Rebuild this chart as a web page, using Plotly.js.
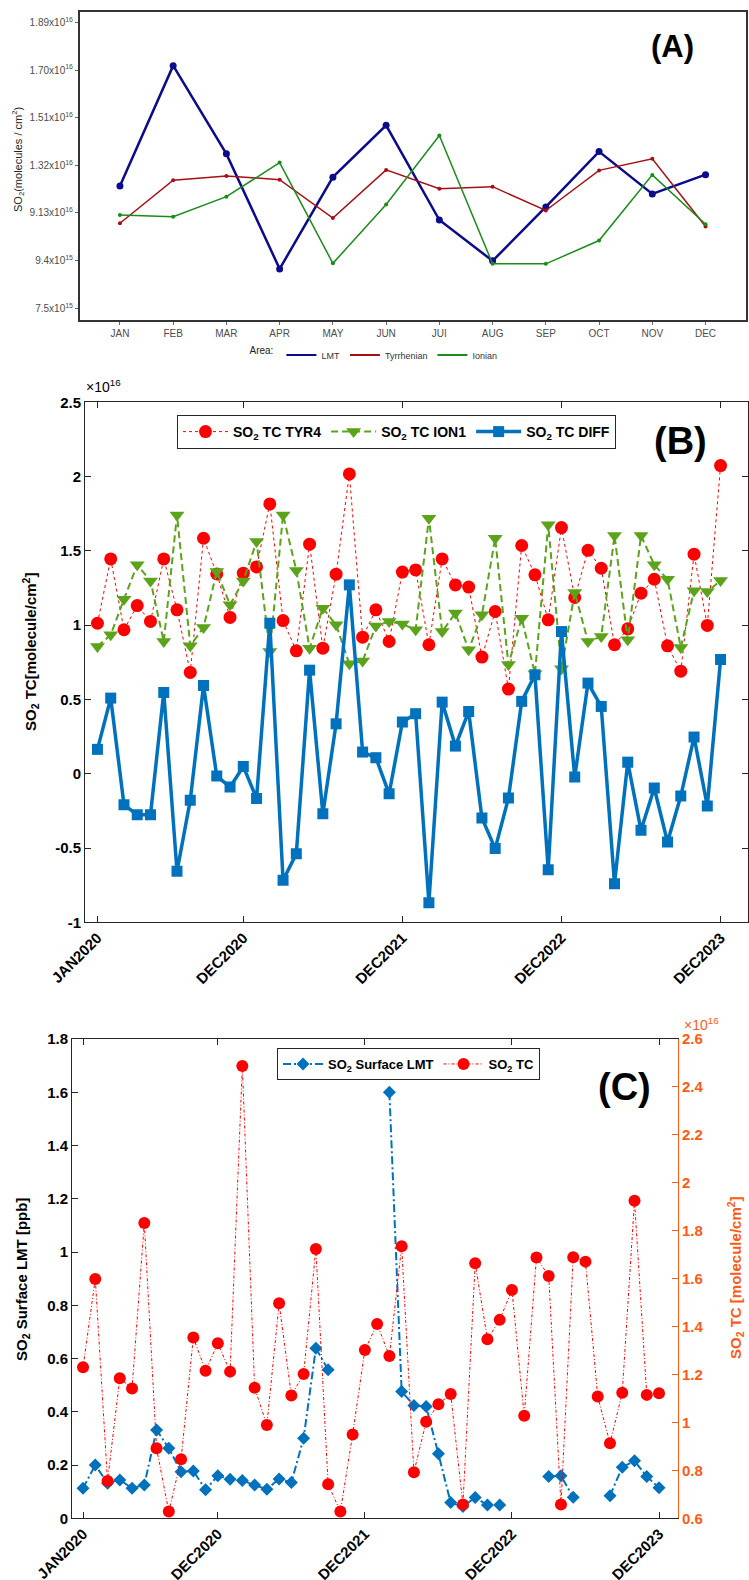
<!DOCTYPE html>
<html><head><meta charset="utf-8">
<script src="https://cdn.plot.ly/plotly-3.0.1.min.js"></script>
<style>html,body{margin:0;padding:0;background:#fff;}#chart{width:749px;height:1580px;}</style>
</head><body><div id="chart"></div>
<script>
// ---------- Panel A data (x10^16 molecules/cm2) ----------
const monthsA = ["JAN","FEB","MAR","APR","MAY","JUN","JUI","AUG","SEP","OCT","NOV","DEC"];
const lmtA = [1.238,1.718,1.366,0.907,1.273,1.480,1.102,0.939,1.154,1.375,1.206,1.283];
const tyrA = [1.089,1.261,1.278,1.263,1.110,1.302,1.227,1.235,1.140,1.300,1.346,1.076];
const ionA = [1.122,1.115,1.195,1.331,0.929,1.164,1.439,0.927,0.927,1.020,1.282,1.085];
const tickValsA = [0.75,0.94,1.13,1.32,1.51,1.70,1.89];
const tickTextA = ["7.5x10<sup>15</sup>","9.4x10<sup>15</sup>","9.13x10<sup>16</sup>","1.32x10<sup>16</sup>","1.51x10<sup>16</sup>","1.70x10<sup>16</sup>","1.89x10<sup>16</sup>"];

// ---------- Months Jan 2020 - Dec 2023 ----------
const months = ["JAN2020","FEB2020","MAR2020","APR2020","MAY2020","JUN2020","JUL2020","AUG2020","SEP2020","OCT2020","NOV2020","DEC2020",
"JAN2021","FEB2021","MAR2021","APR2021","MAY2021","JUN2021","JUL2021","AUG2021","SEP2021","OCT2021","NOV2021","DEC2021",
"JAN2022","FEB2022","MAR2022","APR2022","MAY2022","JUN2022","JUL2022","AUG2022","SEP2022","OCT2022","NOV2022","DEC2022",
"JAN2023","FEB2023","MAR2023","APR2023","MAY2023","JUN2023","JUL2023","AUG2023","SEP2023","OCT2023","NOV2023","DEC2023"];
const tickMonths = ["JAN2020","DEC2020","DEC2021","DEC2022","DEC2023"];

// ---------- Panel B data (x10^16) ----------
const tyr4 = [1.013,1.446,0.969,1.132,1.025,1.446,1.103,0.682,1.585,1.345,1.052,1.350,1.392,1.816,1.031,0.827,1.545,0.845,1.343,2.018,0.919,1.103,0.890,1.357,1.372,0.868,1.446,1.271,1.256,0.785,1.092,0.570,1.536,1.339,1.036,1.657,1.186,1.504,1.383,0.868,0.975,1.215,1.309,0.861,0.690,1.478,0.998,2.074];
const ion1 = [0.857,0.935,1.175,1.406,1.298,0.890,1.742,0.861,0.984,1.361,1.137,1.298,1.563,0.823,1.742,1.368,0.845,1.114,1.002,0.740,0.758,0.995,1.025,1.007,0.969,1.720,0.957,1.081,0.834,1.070,1.585,0.735,1.047,0.673,1.675,0.706,1.220,0.890,0.924,1.603,0.901,1.603,1.406,1.309,0.850,1.231,1.226,1.300];
const diffB = [0.164,0.509,-0.209,-0.276,-0.276,0.547,-0.657,-0.179,0.594,-0.016,-0.090,0.049,-0.166,1.013,-0.717,-0.538,0.697,-0.269,0.336,1.271,0.146,0.108,-0.135,0.348,0.404,-0.868,0.482,0.186,0.419,-0.298,-0.504,-0.164,0.487,0.666,-0.646,0.957,-0.022,0.610,0.453,-0.740,0.078,-0.381,-0.096,-0.460,-0.150,0.247,-0.217,0.769];

// ---------- Panel C data ----------
const surfLMT = [0.113,0.200,0.132,0.144,0.113,0.125,0.332,0.263,0.175,0.178,0.107,0.160,0.147,0.142,0.125,0.109,0.148,0.134,0.301,0.639,0.558,null,null,null,null,1.600,0.476,0.424,0.420,0.242,0.059,0.044,0.078,0.050,0.050,null,null,null,0.157,0.160,0.079,null,null,0.085,0.192,0.216,0.157,0.115];
const tcC = [1.230,1.599,0.756,1.184,1.142,1.832,0.892,0.628,0.846,1.354,1.216,1.330,1.212,2.487,1.145,0.989,1.497,1.112,1.202,1.724,0.742,0.628,0.950,1.302,1.411,1.277,1.735,0.792,1.003,1.076,1.119,0.658,1.664,1.347,1.428,1.553,1.028,1.688,1.611,0.658,1.689,1.671,1.108,0.913,1.124,1.925,1.115,1.122];

// ---------- helpers ----------
const W = 749, H = 1580;
const px = v => v / W;
const py = v => 1 - v / H;
const ARIAL = "Liberation Sans, Arial, sans-serif";
const RED = "#FF0000", GREEN = "#5BA31B", BLUE = "#0072BD", ORANGE = "#FF5B16", AX = "#262626";

const traces = [
  // Panel A
  {x: monthsA, y: lmtA, xaxis: "x", yaxis: "y", mode: "lines+markers", name: "LMT", showlegend: false,
   line: {color: "#0B0B8C", width: 2.5}, marker: {color: "#0B0B8C", size: 7}},
  {x: monthsA, y: tyrA, xaxis: "x", yaxis: "y", mode: "lines+markers", name: "Tyrrhenian", showlegend: false,
   line: {color: "#A50F15", width: 1.5}, marker: {color: "#A50F15", size: 4}},
  {x: monthsA, y: ionA, xaxis: "x", yaxis: "y", mode: "lines+markers", name: "Ionian", showlegend: false,
   line: {color: "#1A8C1A", width: 1.5}, marker: {color: "#1A8C1A", size: 4}},
  {x: [null], y: [null], xaxis: "x", yaxis: "y", mode: "lines", name: "LMT", legend: "legend", line: {color: "#0B0B8C", width: 2}},
  {x: [null], y: [null], xaxis: "x", yaxis: "y", mode: "lines", name: "Tyrrhenian", legend: "legend", line: {color: "#A50F15", width: 2}},
  {x: [null], y: [null], xaxis: "x", yaxis: "y", mode: "lines", name: "Ionian", legend: "legend", line: {color: "#1A8C1A", width: 2}},
  // Panel B
  {x: months, y: tyr4, xaxis: "x2", yaxis: "y2", mode: "lines+markers", name: "SO<sub>2</sub> TC TYR4", legend: "legend2",
   line: {color: RED, width: 1, dash: "3px,3px"}, marker: {color: RED, size: 13, symbol: "circle"}},
  {x: months, y: ion1, xaxis: "x2", yaxis: "y2", mode: "lines+markers", name: "SO<sub>2</sub> TC ION1", legend: "legend2",
   line: {color: GREEN, width: 2, dash: "7px,4px"}, marker: {color: GREEN, size: 13, symbol: "triangle-down"}},
  {x: months, y: diffB, xaxis: "x2", yaxis: "y2", mode: "lines+markers", name: "SO<sub>2</sub> TC DIFF", legend: "legend2",
   line: {color: BLUE, width: 3.5}, marker: {color: BLUE, size: 11, symbol: "square"}},
  // Panel C
  {x: months, y: surfLMT, xaxis: "x3", yaxis: "y3", mode: "lines+markers", name: "SO<sub>2</sub> Surface LMT", legend: "legend3",
   connectgaps: false, line: {color: BLUE, width: 2, dash: "8px,3px,2px,3px"}, marker: {color: BLUE, size: 10, symbol: "diamond"}},
  {x: months, y: tcC, xaxis: "x3", yaxis: "y4", mode: "lines+markers", name: "SO<sub>2</sub> TC", legend: "legend3",
   line: {color: RED, width: 1, dash: "3px,2px,1px,2px"}, marker: {color: RED, size: 12, symbol: "circle"}}
];

const bTick = {family: ARIAL, size: 15, color: "#000", weight: "bold"};

function ann(text, x, y, size, color, extra) {
  return Object.assign({text: text, x: px(x), y: py(y), xref: "paper", yref: "paper", xanchor: "center", yanchor: "middle",
    showarrow: false, font: {family: ARIAL, size: size, color: color}}, extra || {});
}

const layout = {
  width: W, height: H, margin: {l: 0, r: 0, t: 0, b: 0},
  paper_bgcolor: "#fff", plot_bgcolor: "#fff", showlegend: true,
  font: {family: ARIAL},
  // Panel A
  xaxis: {domain: [px(80), px(746)], anchor: "y", type: "category", categoryarray: monthsA, range: [-0.75, 11.76],
    showline: true, linecolor: "#333", linewidth: 2, mirror: true, ticks: "outside", ticklen: 3, tickcolor: "#666",
    showgrid: false, zeroline: false, tickfont: {family: ARIAL, size: 10, color: "#4D4D4D"}},
  yaxis: {domain: [py(320), py(12)], anchor: "x", range: [0.703, 1.932], tickvals: tickValsA, ticktext: tickTextA,
    showline: true, linecolor: "#333", linewidth: 2, mirror: true, ticks: "outside", ticklen: 3, tickcolor: "#666",
    showgrid: false, zeroline: false, tickfont: {family: ARIAL, size: 10, color: "#4D4D4D"}},
  legend: {orientation: "h", x: px(375), xanchor: "center", y: py(355), yanchor: "middle",
    title: {text: "Area:", side: "left", font: {family: ARIAL, size: 10, color: "#222"}},
    font: {family: ARIAL, size: 9, color: "#333"}, bgcolor: "rgba(0,0,0,0)", itemwidth: 30},
  // Panel B
  xaxis2: {domain: [px(85), px(748)], anchor: "y2", type: "category", categoryarray: months, range: [-0.94, 49.07],
    tickvals: tickMonths, ticktext: tickMonths, tickangle: -45,
    showline: true, linecolor: AX, linewidth: 1, mirror: "ticks", ticks: "inside", ticklen: 6, tickcolor: AX,
    showgrid: false, zeroline: false, tickfont: bTick},
  yaxis2: {domain: [py(922.3), py(402.3)], anchor: "x2", range: [-1, 2.5],
    tickvals: [-1,-0.5,0,0.5,1,1.5,2,2.5], ticktext: ["-1","-0.5","0","0.5","1","1.5","2","2.5"],
    showline: true, linecolor: AX, linewidth: 1, mirror: "ticks", ticks: "inside", ticklen: 6, tickcolor: AX,
    showgrid: false, zeroline: false, tickfont: bTick},
  legend2: {orientation: "h", x: px(177), xanchor: "left", y: py(415), yanchor: "top",
    bordercolor: AX, borderwidth: 1, bgcolor: "#fff", itemwidth: 45,
    font: {family: ARIAL, size: 14, color: "#000", weight: "bold"}},
  // Panel C
  xaxis3: {domain: [px(72), px(678)], anchor: "y3", type: "category", categoryarray: months, range: [-0.9, 48.55],
    tickvals: tickMonths, ticktext: tickMonths, tickangle: -45,
    showline: true, linecolor: AX, linewidth: 1, mirror: "ticks", ticks: "inside", ticklen: 6, tickcolor: AX,
    showgrid: false, zeroline: false, tickfont: bTick},
  yaxis3: {domain: [py(1518.3), py(1039)], anchor: "x3", range: [0, 1.8],
    tickvals: [0,0.2,0.4,0.6,0.8,1,1.2,1.4,1.6,1.8], ticktext: ["0","0.2","0.4","0.6","0.8","1","1.2","1.4","1.6","1.8"],
    showline: true, linecolor: AX, linewidth: 1, mirror: false, ticks: "inside", ticklen: 6, tickcolor: AX,
    showgrid: false, zeroline: false, tickfont: bTick},
  yaxis4: {overlaying: "y3", side: "right", anchor: "x3", range: [0.6, 2.6],
    tickvals: [0.6,0.8,1,1.2,1.4,1.6,1.8,2,2.2,2.4,2.6], ticktext: ["0.6","0.8","1","1.2","1.4","1.6","1.8","2","2.2","2.4","2.6"],
    showline: true, linecolor: ORANGE, linewidth: 1, ticks: "inside", ticklen: 6, tickcolor: ORANGE,
    showgrid: false, zeroline: false, tickfont: {family: ARIAL, size: 15, color: ORANGE, weight: "bold"}},
  legend3: {orientation: "h", x: px(277), xanchor: "left", y: py(1048), yanchor: "top",
    bordercolor: AX, borderwidth: 1, bgcolor: "#fff", itemwidth: 40,
    font: {family: ARIAL, size: 13, color: "#000", weight: "bold"}},
  annotations: [
    ann("(A)", 672, 46, 31, "#000", {font: {family: ARIAL, size: 31, color: "#000", weight: "bold"}}),
    ann("SO<sub>2</sub>(molecules / cm<sup>2</sup>)", 18, 160, 11, "#222", {textangle: -90}),
    ann("(B)", 680, 441, 38, "#000", {font: {family: ARIAL, size: 38, color: "#000", weight: "bold"}}),
    ann("×10<sup>16</sup>", 84, 386, 14, "#000", {xanchor: "left"}),
    ann("SO<sub>2</sub> TC[molecule/cm<sup>2</sup>]", 30, 652, 15, "#000",
        {textangle: -90, font: {family: ARIAL, size: 15, color: "#000", weight: "bold"}}),
    ann("(C)", 624, 1087, 38, "#000", {font: {family: ARIAL, size: 38, color: "#000", weight: "bold"}}),
    ann("×10<sup>16</sup>", 682, 1024, 14, ORANGE, {xanchor: "left"}),
    ann("SO<sub>2</sub> Surface LMT [ppb]", 22, 1280, 15, "#000",
        {textangle: -90, font: {family: ARIAL, size: 15, color: "#000", weight: "bold"}}),
    ann("SO<sub>2</sub> TC [molecule/cm<sup>2</sup>]", 735, 1278, 15, ORANGE,
        {textangle: -90, font: {family: ARIAL, size: 15, color: ORANGE, weight: "bold"}})
  ]
};

Plotly.newPlot("chart", traces, layout, {displayModeBar: false, staticPlot: true});
</script>
</body></html>
